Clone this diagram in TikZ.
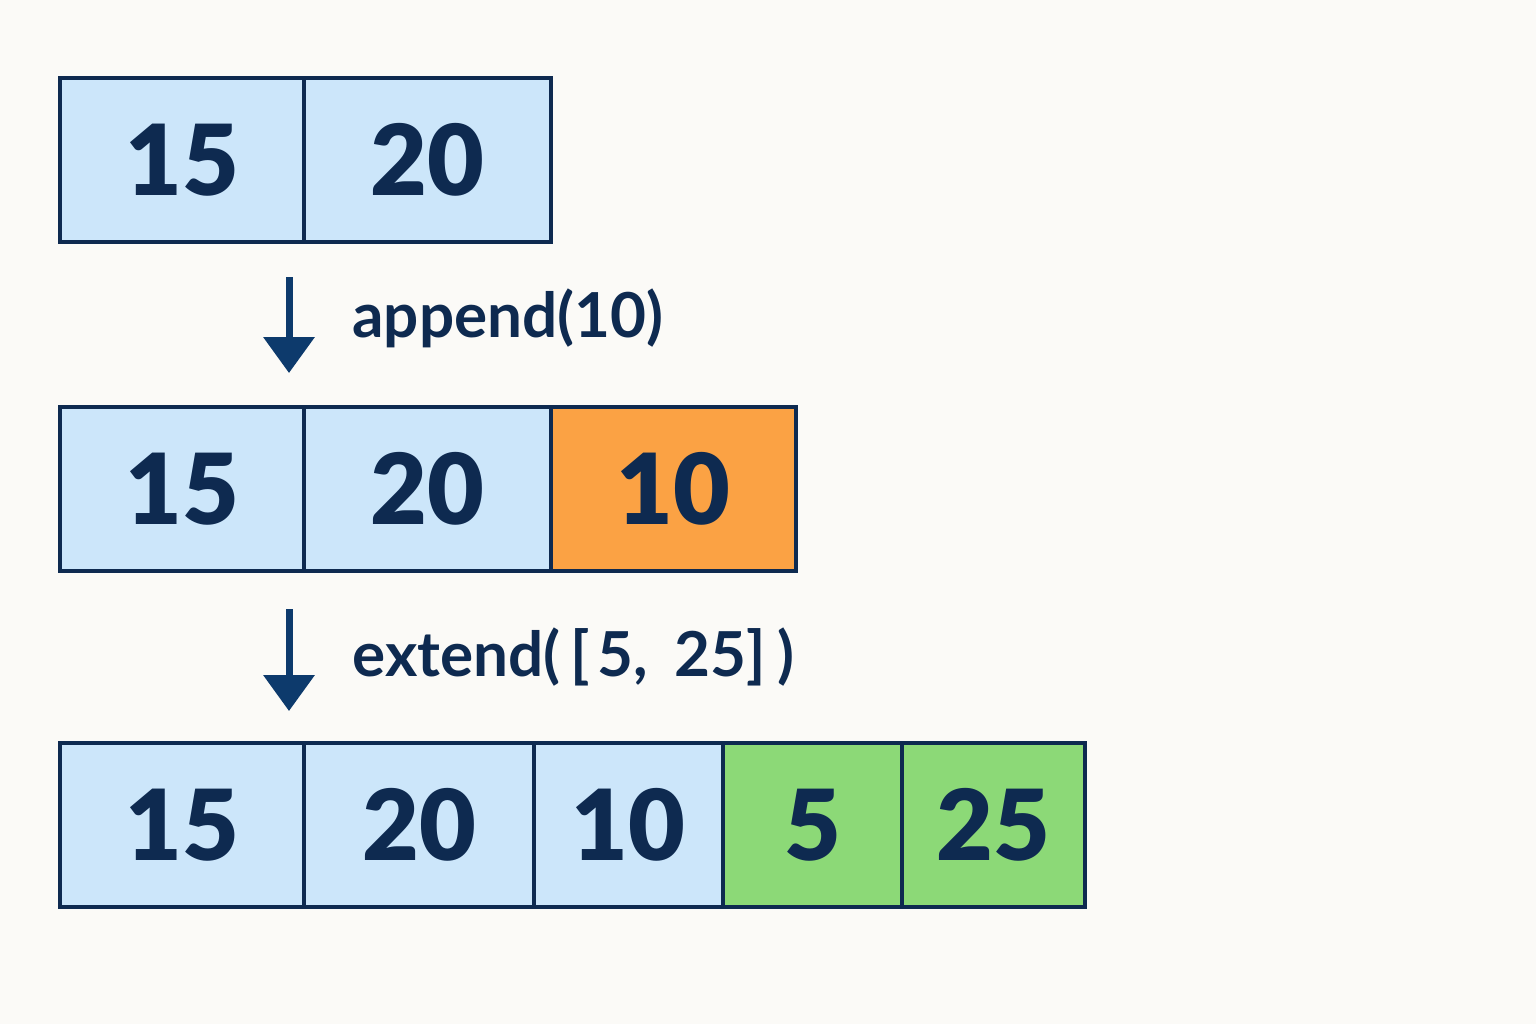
\documentclass[tikz,border=0pt]{standalone}
\usepackage{fontspec}
\setmainfont{Lato}
\newfontfamily\heavyfont{Lato Black}
\usetikzlibrary{arrows.meta}

\definecolor{bgpaper}{HTML}{FBFAF7}
\definecolor{navy}{HTML}{0E2A50}
\definecolor{arrowblue}{HTML}{0D3A6C}
\definecolor{cellblue}{HTML}{CCE6FA}
\definecolor{cellorange}{HTML}{FBA244}
\definecolor{cellgreen}{HTML}{8CD977}

\tikzset{
  cell/.style={draw=navy, line width=2.2pt, rectangle, inner sep=0pt,
    minimum height=82pt, text=navy,
    font=\fontsize{49}{56}\selectfont\heavyfont},
  oldcell/.style={cell, fill=cellblue},
  newcell/.style={cell, fill=cellorange},
  extcell/.style={cell, fill=cellgreen},
  oplabel/.style={anchor=west, text=navy, inner sep=0pt,
    font=\fontsize{31}{36}\selectfont\bfseries},
  oparrow/.style={draw=arrowblue, line width=3.5pt,
    -{Triangle[width=25pt, length=18pt]}},
}

\begin{document}
\begin{tikzpicture}[x=0.5pt, y=-0.5pt]
\fill[bgpaper] (0,0) rectangle (1536,1024);
\useasboundingbox (0,0) rectangle (1536,1024);

% first list
\node[oldcell, minimum width=122pt] (a1) at (182,160) {15};
\node[oldcell, minimum width=123.5pt] (a2) at (427.5,160) {20};

% after append
\node[oldcell, minimum width=122pt] (b1) at (182,489) {15};
\node[oldcell, minimum width=123.5pt] (b2) at (427.5,489) {20};
\node[newcell, minimum width=122.5pt] (b3) at (673.5,489) {10};

% after extend
\node[oldcell, minimum width=122pt] (c1) at (182,825) {15};
\node[oldcell, minimum width=115pt] (c2) at (419,825) {20};
\node[oldcell, minimum width=94.5pt] (c3) at (628.5,825) {10};
\node[extcell, minimum width=89.5pt] (c4) at (812.5,825) {5};
\node[extcell, minimum width=91.5pt] (c5) at (993.5,825) {25};

% operations
\coordinate (s1) at (289,277);
\coordinate (e1) at (289,373);
\coordinate (s2) at (289,609);
\coordinate (e2) at (289,711);
\draw[oparrow] (s1) -- (e1);
\draw[oparrow] (s2) -- (e2);
\node[oplabel] (op1) at (352,318) {append(10)};
\node[oplabel] (op2) at (352,657)
  {extend(\kern5pt[\kern4pt5,\kern13pt25]\kern6pt)};
\end{tikzpicture}
\end{document}
